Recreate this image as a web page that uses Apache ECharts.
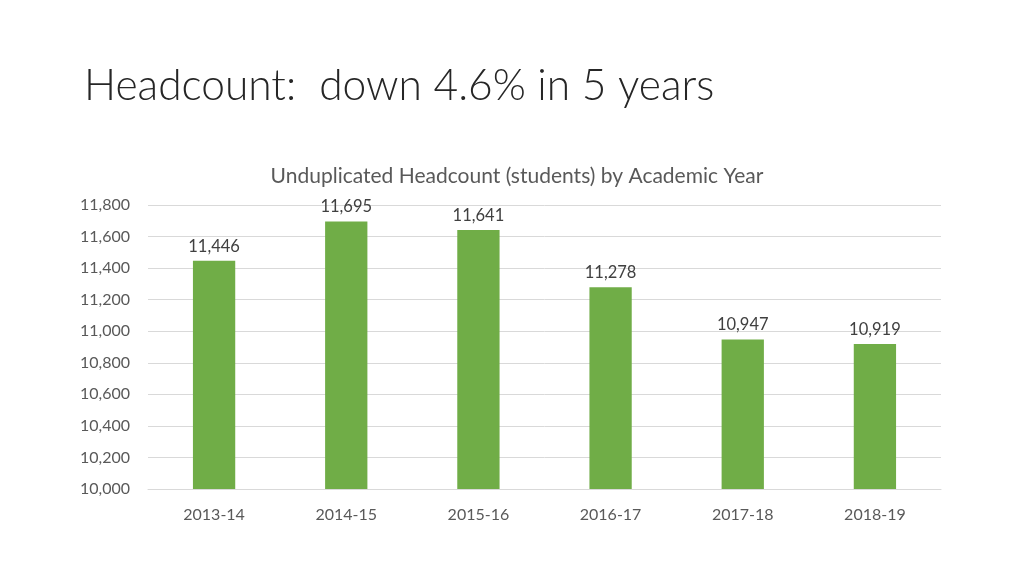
<!DOCTYPE html>
<html>
<head>
<meta charset="utf-8">
<script src="https://cdn.jsdelivr.net/npm/echarts@6/dist/echarts.min.js"></script>
<style>
  html, body { margin: 0; padding: 0; background: #fff; }
  #main { width: 1024px; height: 576px; }
</style>
</head>
<body>
<div id="main"></div>
<script>
// data
const years = ['2013-14', '2014-15', '2015-16', '2016-17', '2017-18', '2018-19'];
const headcount = [11446, 11695, 11641, 11278, 10947, 10919];

const chart = echarts.init(document.getElementById('main'));

const option = {
    backgroundColor: '#fff',
    animation: false,
    textStyle: { fontFamily: 'Lato, "Open Sans", sans-serif' },
    title: [
        {
            text: 'Headcount:  down 4.6% in 5 years',
            left: 79,
            top: 60,
            textStyle: { fontFamily: 'Lato', fontWeight: 300, fontSize: 42.5, color: '#262626' }
        },
        {
            text: 'Unduplicated Headcount (students) by Academic Year',
            left: 512,
            top: 161,
            textAlign: 'center',
            textStyle: { fontFamily: 'Lato', fontWeight: 'normal', fontSize: 21, color: '#595959' }
        }
    ],
    grid: { left: 148, right: 83, top: 205, bottom: 87 },
    xAxis: {
        type: 'category',
        data: years,
        axisLine: { lineStyle: { color: '#d9d9d9' } },
        axisTick: { show: false },
        axisLabel: { color: '#595959', fontSize: 16, margin: 18 }
    },
    yAxis: {
        type: 'value',
        min: 10000,
        max: 11800,
        interval: 200,
        axisLine: { show: false },
        axisTick: { show: false },
        splitLine: { lineStyle: { color: '#d9d9d9' } },
        axisLabel: {
            color: '#595959',
            fontSize: 16,
            margin: 18,
            formatter: v => v.toLocaleString('en-US')
        }
    },
    series: [
        {
            type: 'bar',
            data: headcount,
            barWidth: '32%',
            itemStyle: { color: '#70AD47' },
            label: {
                show: true,
                position: 'top',
                distance: 6,
                color: '#404040',
                fontSize: 16.5,
                formatter: p => p.value.toLocaleString('en-US')
            }
        }
    ]
};

option && chart.setOption(option);
</script>
</body>
</html>
